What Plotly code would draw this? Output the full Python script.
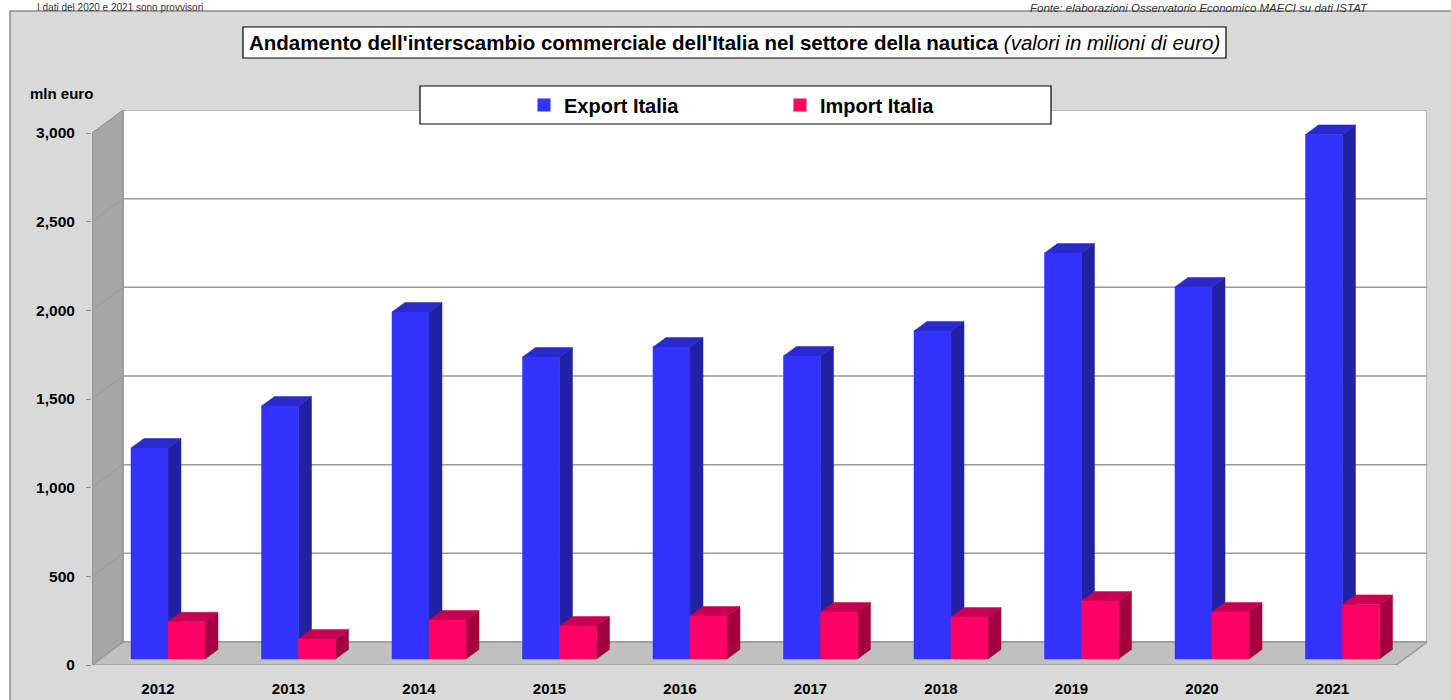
import plotly.graph_objects as go

# ---------------- data ----------------
years = ["2012", "2013", "2014", "2015", "2016", "2017", "2018", "2019", "2020", "2021"]
export_italia = [1190, 1427, 1957, 1703, 1759, 1709, 1850, 2289, 2098, 2958]
import_italia = [210, 113, 220, 186, 242, 265, 237, 327, 265, 308]
y_tick_values = [0, 500, 1000, 1500, 2000, 2500, 3000]
y_tick_labels = ["0", "500", "1,000", "1,500", "2,000", "2,500", "3,000"]

# ---------------- geometry (pixels -> data units) ----------------
W, H = 1451, 700
L, R, T, B = 92, 1427, 110, 665          # plot area in pixels
CAT0_PX, CAT_STEP = 158.0, 130.5         # category centre spacing
UPY = 3000 / 532.0                       # value units per pixel (vertical)

def ux(px):
    return px / CAT_STEP

def uy(px):
    return px * UPY

x_lo = (L - CAT0_PX) / CAT_STEP
x_hi = (R - CAT0_PX) / CAT_STEP
y_top = (B - T) * UPY
wall_dx = ux(31)
wall_dy = y_top - 3000

bar_off = ux(-27)
bar_w = ux(37)
bar_dx = ux(13)
bar_dy = uy(9.5)
bar_base = uy(6)

def fx(px):
    return (px - L) / (R - L)

def fy(py):
    return (B - py) / (B - T)

FONT = "Liberation Sans, Arial, sans-serif"

# ---------------- bar faces ----------------
def faces(values, shift):
    front_x, front_y, top_x, top_y, side_x, side_y = [], [], [], [], [], []
    for i, v in enumerate(values):
        x0 = i + bar_off + shift
        x1 = x0 + bar_w
        b = bar_base
        t = bar_base + v
        front_x += [x0, x1, x1, x0, x0, None]
        front_y += [b, b, t, t, b, None]
        top_x += [x0, x1, x1 + bar_dx, x0 + bar_dx, x0, None]
        top_y += [t, t, t + bar_dy, t + bar_dy, t, None]
        side_x += [x1, x1 + bar_dx, x1 + bar_dx, x1, x1, None]
        side_y += [b, b + bar_dy, t + bar_dy, t, b, None]
    return (front_x, front_y), (top_x, top_y), (side_x, side_y)

series = [
    ("Export Italia", export_italia, 0.0, "#3333ff", "#2929cc", "#2121a3"),
    ("Import Italia", import_italia, bar_w, "#ff0066", "#c80052", "#a3003f"),
]

fig = go.Figure()
for name, vals, shift, c_front, c_top, c_side in series:
    (fxs, fys), (txs, tys), (sxs, sys_) = faces(vals, shift)
    fig.add_trace(go.Scatter(x=sxs, y=sys_, fill="toself", fillcolor=c_side, mode="lines",
                             line=dict(color=c_side, width=0.5), showlegend=False, hoverinfo="skip"))
    fig.add_trace(go.Scatter(x=txs, y=tys, fill="toself", fillcolor=c_top, mode="lines",
                             line=dict(color=c_top, width=0.5), showlegend=False, hoverinfo="skip"))
    fig.add_trace(go.Scatter(x=fxs, y=fys, fill="toself", fillcolor=c_front, mode="lines",
                             line=dict(color=c_front, width=0.5), showlegend=False, name=name,
                             hoverinfo="skip"))

# legend entries
for name, vals, shift, c_front, c_top, c_side in series:
    fig.add_trace(go.Scatter(x=[None], y=[None], mode="markers", name=f"<b>{name}</b>",
                             marker=dict(symbol="square", size=13, color=c_front)))

# ---------------- walls, floor, gridlines ----------------
shapes = []
# grey panel
shapes.append(dict(type="rect", xref="paper", yref="paper", x0=fx(10), x1=fx(1470), y0=fy(11), y1=fy(720),
                   fillcolor="#d9d9d9", line=dict(color="#8c8c8c", width=1.5), layer="below"))
# back wall
shapes.append(dict(type="rect", xref="x", yref="y", x0=x_lo + wall_dx, x1=x_hi, y0=wall_dy, y1=y_top,
                   fillcolor="white", line=dict(color="#a0a0a0", width=1.5), layer="below"))
# left wall
shapes.append(dict(type="path", xref="x", yref="y",
                   path=f"M{x_lo},0 L{x_lo},3000 L{x_lo + wall_dx},{3000 + wall_dy} L{x_lo + wall_dx},{wall_dy} Z",
                   fillcolor="#a6a6a6", line=dict(color="#8c8c8c", width=1), layer="below"))
# floor
shapes.append(dict(type="path", xref="x", yref="y",
                   path=f"M{x_lo},0 L{x_hi - wall_dx},0 L{x_hi},{wall_dy} L{x_lo + wall_dx},{wall_dy} Z",
                   fillcolor="#c0c0c0", line=dict(color="#969696", width=1.5), layer="below"))
# gridlines on back wall and side wall
for v in y_tick_values[1:-1]:
    shapes.append(dict(type="line", xref="x", yref="y", x0=x_lo + wall_dx, x1=x_hi,
                       y0=v + wall_dy, y1=v + wall_dy, line=dict(color="#999999", width=1.5), layer="below"))
    shapes.append(dict(type="line", xref="x", yref="y", x0=x_lo, x1=x_lo + wall_dx,
                       y0=v, y1=v + wall_dy, line=dict(color="#999999", width=1), layer="below"))

# title box and legend box
shapes.append(dict(type="rect", xref="paper", yref="paper", x0=fx(243), x1=fx(1226), y0=fy(27), y1=fy(58),
                   fillcolor="white", line=dict(color="black", width=1.2), layer="above"))
shapes.append(dict(type="rect", xref="paper", yref="paper", x0=fx(420), x1=fx(1051), y0=fy(86), y1=fy(124),
                   fillcolor="white", line=dict(color="black", width=1.2), layer="above"))

annotations = [
    dict(xref="paper", yref="paper", x=fx(734.5), y=fy(42.5), xanchor="center", yanchor="middle",
         showarrow=False, font=dict(family=FONT, size=20.5, color="black"),
         text="<b>Andamento dell'interscambio commerciale dell'Italia nel settore della nautica</b>"
              "<i> (valori in milioni di euro)</i>"),
    dict(xref="paper", yref="paper", x=fx(28), y=fy(93), xanchor="left", yanchor="middle",
         showarrow=False, font=dict(family=FONT, size=15, color="black"), text="<b>mln euro</b>"),
    dict(xref="paper", yref="paper", x=fx(35), y=fy(0), xanchor="left", yanchor="top",
         showarrow=False, font=dict(family=FONT, size=10, color="#333333"),
         text="I dati del 2020 e 2021 sono provvisori"),
    dict(xref="paper", yref="paper", x=fx(1370), y=fy(0), xanchor="right", yanchor="top",
         showarrow=False, font=dict(family=FONT, size=11.5, color="#333333"),
         text="<i>Fonte: elaborazioni Osservatorio Economico MAECI su dati ISTAT</i>"),
]

fig.update_layout(
    width=W, height=H,
    margin=dict(l=L, r=W - R, t=T, b=H - B, pad=0, autoexpand=False),
    paper_bgcolor="white", plot_bgcolor="rgba(0,0,0,0)",
    shapes=shapes, annotations=annotations,
    showlegend=True,
    legend=dict(orientation="h", xref="container", yref="container", x=524 / W, y=1 - 105 / H,
                xanchor="left", yanchor="middle", bgcolor="rgba(0,0,0,0)", borderwidth=0,
                font=dict(family=FONT, size=20, color="black"), entrywidth=211, entrywidthmode="pixels",
                itemclick=False, itemdoubleclick=False),
    font=dict(family=FONT),
)

fig.update_xaxes(range=[x_lo, x_hi], tickvals=list(range(len(years))), ticktext=[f"<b>{y}</b>" for y in years],
                 showgrid=False, zeroline=False, showline=False, ticks="", automargin=False,
                 tickfont=dict(family=FONT, size=15, color="black"), ticklabelstandoff=13, fixedrange=True)
fig.update_yaxes(range=[0, y_top], tickvals=y_tick_values, ticktext=[f"<b>{t}</b>" for t in y_tick_labels],
                 showgrid=False, zeroline=False, showline=False, ticks="outside", ticklen=5, automargin=False,
                 tickcolor="#8c8c8c", tickfont=dict(family=FONT, size=15.5, color="black"),
                 ticklabelstandoff=8, fixedrange=True)

fig.write_html("out.html", config={"displayModeBar": False},
               post_script="document.body.style.margin='0';document.body.style.overflow='hidden';")
